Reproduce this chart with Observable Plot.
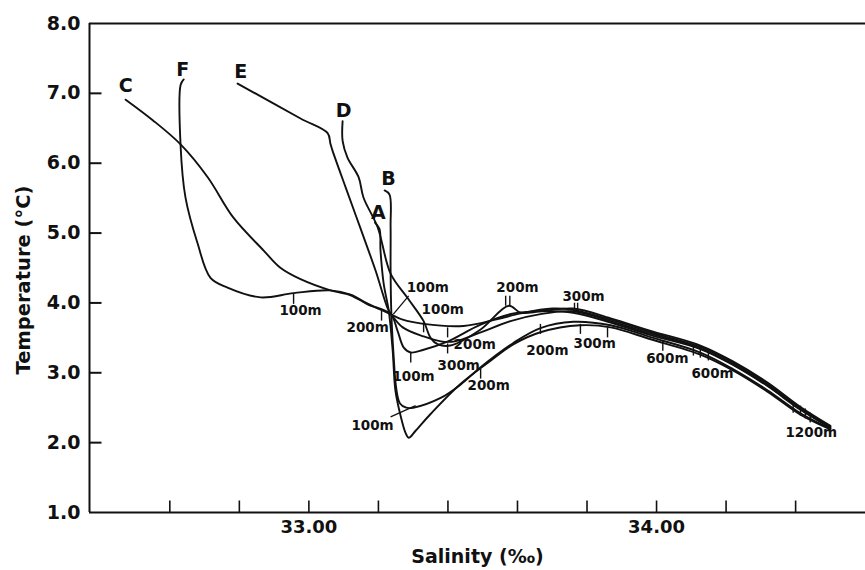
<!DOCTYPE html>
<html>
<head>
<meta charset="utf-8">
<script src="https://cdn.jsdelivr.net/npm/d3@7"></script>
<script src="https://cdn.jsdelivr.net/npm/@observablehq/plot@0.6"></script>
<style>
  html, body { margin: 0; padding: 0; background: #fff; }
  #chart svg { display: block; }
</style>
</head>
<body>
<div id="chart"></div>
<script>
// ---- axis setup ----
const xDomain = [32.369, 34.601];
const yDomain = [1, 8];
const yTicks = [1, 2, 3, 4, 5, 6, 7, 8];
const xTicks = [32.6, 32.8, 33.0, 33.2, 33.4, 33.6, 33.8, 34.0, 34.2, 34.4];
const xTickLabels = [33, 34];

// ---- T-S curves: [salinity, temperature] ----
const stationA = [[33.190,5.15],[33.203,5.06],[33.206,4.75],[33.215,4.28],[33.230,3.88],[33.241,3.32],[33.249,2.74],[33.264,2.38],[33.278,2.14],[33.287,2.07],[33.307,2.17],[33.350,2.41],[33.436,2.84],[33.530,3.20],[33.589,3.41],[33.666,3.58],[33.780,3.68],[33.868,3.65],[33.983,3.48],[34.126,3.26],[34.221,3.03],[34.319,2.73],[34.414,2.40],[34.500,2.19]];
const stationB = [[33.218,5.61],[33.232,5.55],[33.235,5.10],[33.235,4.50],[33.237,3.88],[33.243,3.30],[33.252,2.75],[33.262,2.56],[33.280,2.50],[33.300,2.50],[33.379,2.64],[33.436,2.83],[33.494,3.08],[33.589,3.43],[33.666,3.64],[33.760,3.73],[33.868,3.68],[33.983,3.51],[34.126,3.29],[34.221,3.05],[34.319,2.75],[34.414,2.42],[34.500,2.20]];
const stationC = [[32.473,6.91],[32.550,6.62],[32.631,6.27],[32.709,5.80],[32.783,5.22],[32.870,4.75],[32.919,4.50],[32.976,4.34],[33.062,4.18],[33.120,4.11],[33.169,3.98],[33.235,3.84],[33.255,3.60],[33.273,3.36],[33.293,3.29],[33.330,3.33],[33.400,3.45],[33.494,3.69],[33.589,3.85],[33.666,3.88],[33.760,3.86],[33.868,3.72],[33.983,3.54],[34.126,3.34],[34.221,3.11],[34.319,2.81],[34.414,2.47],[34.500,2.22]];
const stationD = [[33.097,6.60],[33.097,6.32],[33.111,6.08],[33.143,5.80],[33.157,5.51],[33.198,5.08],[33.235,4.42],[33.284,4.07],[33.330,3.74],[33.350,3.50],[33.370,3.41],[33.407,3.39],[33.494,3.62],[33.575,3.96],[33.609,3.86],[33.666,3.88],[33.760,3.92],[33.868,3.78],[33.983,3.60],[34.126,3.39],[34.221,3.16],[34.319,2.86],[34.414,2.51],[34.500,2.24]];
const stationE = [[32.795,7.14],[32.976,6.64],[33.054,6.43],[33.062,6.28],[33.068,6.18],[33.106,5.65],[33.149,5.06],[33.192,4.46],[33.226,3.93],[33.235,3.85],[33.270,3.65],[33.330,3.52],[33.380,3.45],[33.420,3.45],[33.490,3.57],[33.580,3.74],[33.666,3.84],[33.760,3.88],[33.868,3.74],[33.983,3.56],[34.126,3.35],[34.221,3.12],[34.319,2.82],[34.414,2.48],[34.500,2.21]];
const stationF = [[32.640,7.20],[32.631,7.12],[32.631,6.25],[32.645,5.51],[32.680,4.85],[32.717,4.36],[32.766,4.22],[32.861,4.08],[32.956,4.14],[33.062,4.18],[33.120,4.12],[33.169,3.99],[33.235,3.84],[33.270,3.76],[33.330,3.70],[33.445,3.67],[33.543,3.77],[33.609,3.85],[33.700,3.92],[33.760,3.90],[33.868,3.76],[33.983,3.58],[34.126,3.37],[34.221,3.14],[34.319,2.84],[34.414,2.49],[34.500,2.23]];

const stationNames = ["A", "B", "C", "D", "E", "F"];
const stationCurves = [stationA, stationB, stationC, stationD, stationE, stationF];
// station letter label positions [salinity, temperature]
const stationLabelPos = [[33.200,5.29],[33.229,5.78],[32.473,7.11],[33.100,6.75],[32.804,7.30],[32.637,7.33]];

// ---- depth marks ----
// ticks hanging below the curve
const depthTicksDown = [[32.956,4.13],[33.293,3.29],[33.399,3.65],[33.399,3.42],[33.494,3.06],[33.666,3.70],[33.781,3.70],[33.859,3.65],[34.018,3.46],[34.106,3.39],[34.126,3.36],[34.149,3.32],[34.393,2.57],[34.414,2.53],[34.428,2.49],[34.442,2.43],[33.209,3.89]];
// ticks rising above the curve
const depthTicksUp = [[33.566,3.96],[33.578,3.96],[33.764,3.86],[33.773,3.86],[33.330,3.58]];
// depth label text and positions
const depthLabelText = ["100m","100m","200m","300m","200m","200m","300m","600m","600m","1200m","200m","200m","300m","100m","100m","100m"];
const depthLabelPos = [[32.976,3.89],[33.301,2.94],[33.477,3.40],[33.431,3.10],[33.517,2.81],[33.686,3.32],[33.822,3.41],[34.031,3.20],[34.161,2.99],[34.445,2.14],[33.169,3.65],[33.600,4.22],[33.790,4.09],[33.385,3.90],[33.342,4.22],[33.183,2.25]];
// leader lines [[s1,t1],[s2,t2]]
const leaders = [[[33.243,3.84],[33.287,4.10]], [[33.235,2.37],[33.307,2.53]]];

// ---- build tables ----
const lineRows = stationCurves.flatMap((pts, i) => pts.map(([s, t]) => ({station: stationNames[i], s, t})));
const stationLabels = stationNames.map((n, i) => ({n, s: stationLabelPos[i][0], t: stationLabelPos[i][1]}));
const depthLabels = depthLabelText.map((txt, i) => ({txt, s: depthLabelPos[i][0], t: depthLabelPos[i][1]}));
const leaderRows = leaders.map(([a, b]) => ({s1: a[0], t1: a[1], s2: b[0], t2: b[1]}));

// custom stroke-only symbols
const symDown = {draw(c) { c.moveTo(0, 0); c.lineTo(0, 10); }};
const symUp = {draw(c) { c.moveTo(0, 0); c.lineTo(0, -10); }};
const symAxisRight = {draw(c) { c.moveTo(0, 0); c.lineTo(12, 0); }};
const symAxisUp = {draw(c) { c.moveTo(0, 0); c.lineTo(0, -12); }};

const ink = "#111";

const chart = Plot.plot({
  width: 865,
  height: 570,
  marginLeft: 89,
  marginRight: 0,
  marginTop: 23,
  marginBottom: 58,
  style: {fontFamily: "'DejaVu Sans', sans-serif", fontWeight: "bold", color: ink, background: "#fff"},
  x: {domain: xDomain},
  y: {domain: yDomain},
  marks: [
    // frame
    Plot.ruleY([yDomain[0], yDomain[1]], {stroke: ink, strokeWidth: 2}),
    Plot.ruleX([xDomain[0]], {stroke: ink, strokeWidth: 2}),
    // inward axis ticks
    Plot.dot(yTicks.slice(1, -1), {x: () => xDomain[0], y: d => d, symbol: symAxisRight, stroke: ink, fill: "none", strokeWidth: 2}),
    Plot.dot(xTicks, {x: d => d, y: () => yDomain[0], symbol: symAxisUp, stroke: ink, fill: "none", strokeWidth: 1.6}),
    // axis labels
    Plot.axisY({ticks: yTicks, tickFormat: d3.format(".1f"), tickSize: 0, tickPadding: 9, fontSize: 19, label: null}),
    Plot.axisX({ticks: xTickLabels, tickFormat: d3.format(".2f"), tickSize: 0, tickPadding: 8, fontSize: 18, label: null}),
    Plot.text(["Temperature (°C)"], {frameAnchor: "left", textAnchor: "middle", lineAnchor: "middle", dx: -66, dy: 12, rotate: -90, fontSize: 19.5, fill: ink}),
    Plot.text(["Salinity (‰)"], {frameAnchor: "bottom", textAnchor: "middle", lineAnchor: "middle", dy: 44, fontSize: 19, fill: ink}),
    // curves
    Plot.line(lineRows, {x: "s", y: "t", z: "station", stroke: ink, strokeWidth: 1.9, curve: "catmull-rom"}),
    // depth ticks
    Plot.dot(depthTicksDown, {x: d => d[0], y: d => d[1], symbol: symDown, stroke: ink, fill: "none", strokeWidth: 1.4}),
    Plot.dot(depthTicksUp, {x: d => d[0], y: d => d[1], symbol: symUp, stroke: ink, fill: "none", strokeWidth: 1.4}),
    Plot.link(leaderRows, {x1: "s1", y1: "t1", x2: "s2", y2: "t2", stroke: ink, strokeWidth: 1.3}),
    // labels
    Plot.text(depthLabels, {x: "s", y: "t", text: "txt", fontSize: 13.5, fill: ink}),
    Plot.text(stationLabels, {x: "s", y: "t", text: "n", fontSize: 19, fill: ink})
  ]
});
document.getElementById("chart").appendChild(chart);
</script>
</body>
</html>
